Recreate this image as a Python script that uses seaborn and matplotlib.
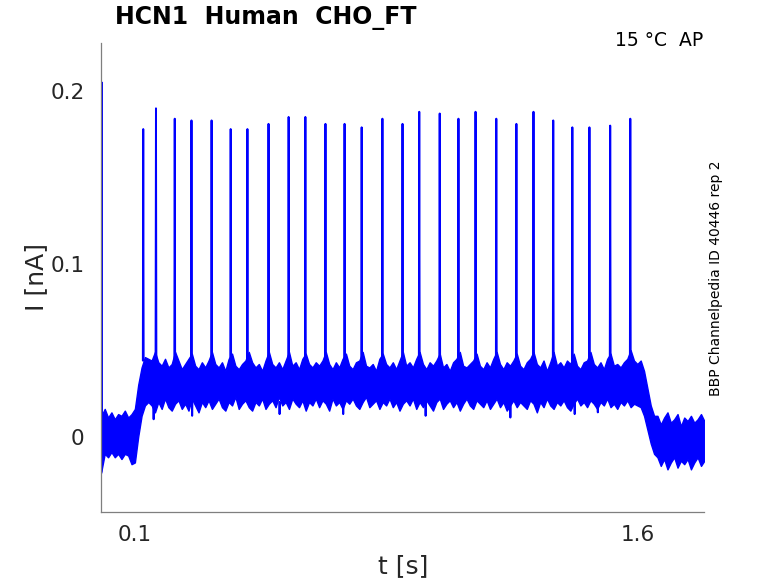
import numpy as np
import pandas as pd
import matplotlib
matplotlib.use("Agg")
import matplotlib.pyplot as plt
import seaborn as sns

# ---------------- data ----------------
# spike times [s] and peak currents [nA]
spike_t = [0.125, 0.163, 0.219, 0.269, 0.329, 0.386, 0.436, 0.499, 0.559,
           0.609, 0.669, 0.726, 0.777, 0.839, 0.899, 0.949, 1.010, 1.066,
           1.117, 1.179, 1.239, 1.290, 1.349, 1.406, 1.457, 1.519, 1.579]
spike_peak = [0.178, 0.190, 0.184, 0.183, 0.183, 0.178, 0.178, 0.181, 0.185,
              0.185, 0.181, 0.181, 0.179, 0.184, 0.181, 0.188, 0.187, 0.184,
              0.188, 0.184, 0.181, 0.188, 0.183, 0.179, 0.179, 0.180, 0.184]
spike_base = 0.044

# capacitive transient at the start of the trace
transient_t = [0.0005, 0.0010, 0.0020]
transient_i = [-0.021, 0.205, 0.004]

# occasional downward excursions of the noisy trace
dip_t = [0.156, 0.271, 0.532, 0.722, 0.968, 1.221, 1.413, 1.482]
dip_i = [0.010, 0.012, 0.013, 0.013, 0.012, 0.011, 0.013, 0.014]

# noise envelope of the trace on a 10 ms grid, 0.00 .. 1.80 s
env_upper = (
    [0.012, 0.016, 0.011, 0.014, 0.010, 0.013, 0.012, 0.015, 0.011, 0.013]
    + [0.016, 0.030, 0.040, 0.046, 0.045]
    + [0.044, 0.049, 0.043, 0.041, 0.045, 0.040, 0.042, 0.049, 0.044, 0.039,
       0.042, 0.045, 0.048, 0.041, 0.039, 0.043, 0.040, 0.044, 0.049, 0.042,
       0.040, 0.043, 0.038, 0.045, 0.048, 0.041, 0.039, 0.042, 0.044, 0.049,
       0.043, 0.040, 0.042, 0.038, 0.044, 0.049, 0.042, 0.040, 0.043, 0.039,
       0.044, 0.049, 0.041, 0.043, 0.039, 0.045, 0.048, 0.042, 0.040, 0.043,
       0.041, 0.044, 0.049, 0.042, 0.039, 0.043, 0.040, 0.045, 0.048, 0.041,
       0.039, 0.043, 0.044, 0.049, 0.041, 0.040, 0.042, 0.038, 0.045, 0.048,
       0.042, 0.040, 0.043, 0.039, 0.044, 0.049, 0.041, 0.043, 0.040, 0.045,
       0.049, 0.042, 0.039, 0.043, 0.041, 0.044, 0.048, 0.040, 0.042, 0.038,
       0.043, 0.045, 0.049, 0.041, 0.040, 0.042, 0.044, 0.048, 0.041, 0.039,
       0.043, 0.040, 0.045, 0.049, 0.042, 0.039, 0.043, 0.041, 0.044, 0.048,
       0.041, 0.039, 0.043, 0.045, 0.049, 0.042, 0.040, 0.044, 0.038, 0.043,
       0.049, 0.041, 0.043, 0.040, 0.044, 0.042, 0.048, 0.041, 0.039, 0.043,
       0.044, 0.049, 0.042, 0.040, 0.043, 0.039, 0.045, 0.048, 0.041, 0.042,
       0.040, 0.043, 0.045, 0.050, 0.044]
    + [0.042, 0.044, 0.038, 0.028, 0.018]
    + [0.012, 0.012, 0.007, 0.011, 0.014, 0.008, 0.010, 0.013, 0.006, 0.011,
       0.009, 0.012, 0.008, 0.010, 0.013, 0.009]
)
env_lower = (
    [-0.020, -0.010, -0.012, -0.009, -0.012, -0.010, -0.013, -0.010, -0.011, -0.016]
    + [-0.015, 0.000, 0.012, 0.018, 0.020]
    + [0.018, 0.014, 0.020, 0.016, 0.022, 0.017, 0.015, 0.019, 0.021, 0.016,
       0.019, 0.015, 0.022, 0.018, 0.014, 0.020, 0.017, 0.021, 0.016, 0.019,
       0.022, 0.017, 0.015, 0.020, 0.018, 0.023, 0.016, 0.019, 0.021, 0.017,
       0.015, 0.020, 0.018, 0.022, 0.016, 0.019, 0.021, 0.017, 0.023, 0.018,
       0.020, 0.016, 0.022, 0.019, 0.017, 0.021, 0.015, 0.020, 0.018, 0.022,
       0.017, 0.021, 0.019, 0.015, 0.022, 0.018, 0.020, 0.016, 0.021, 0.019,
       0.022, 0.018, 0.016, 0.020, 0.023, 0.017, 0.019, 0.021, 0.016, 0.020,
       0.018, 0.022, 0.017, 0.020, 0.015, 0.019, 0.021, 0.018, 0.022, 0.016,
       0.020, 0.017, 0.021, 0.018, 0.015, 0.020, 0.022, 0.016, 0.019, 0.021,
       0.017, 0.020, 0.015, 0.019, 0.022, 0.018, 0.016, 0.021, 0.019, 0.017,
       0.021, 0.016, 0.019, 0.022, 0.017, 0.020, 0.015, 0.018, 0.021, 0.017,
       0.020, 0.018, 0.016, 0.021, 0.019, 0.014, 0.020, 0.017, 0.022, 0.018,
       0.016, 0.020, 0.018, 0.021, 0.017, 0.015, 0.019, 0.022, 0.018, 0.020,
       0.017, 0.021, 0.019, 0.016, 0.020, 0.018, 0.022, 0.017, 0.019, 0.016,
       0.020, 0.018, 0.021, 0.017, 0.019]
    + [0.018, 0.017, 0.012, 0.004, -0.004]
    + [-0.010, -0.012, -0.017, -0.013, -0.019, -0.015, -0.012, -0.018, -0.014,
       -0.016, -0.013, -0.019, -0.015, -0.012, -0.017, -0.014]
)
env_t = np.round(np.arange(len(env_upper)) * 0.01, 2)

xticks = [0.1, 1.6]
xtick_labels = ["0.1", "1.6"]
yticks = [0.0, 0.1, 0.2]
ytick_labels = ["0", "0.1", "0.2"]

title = "HCN1  Human  CHO_FT"
corner_text = "15 °C  AP"
side_text = "BBP Channelpedia ID 40446 rep 2"

# ---------------- build plotting tables ----------------
rows = []
hw = 0.0012
for k, (t, p) in enumerate(zip(spike_t, spike_peak)):
    for tt, ii in ((t - hw, spike_base), (t, p), (t + hw, spike_base)):
        rows.append({"t": tt, "I": ii, "unit": f"s{k}"})
for k, (t, d) in enumerate(zip(dip_t, dip_i)):
    for tt, ii in ((t - 0.0008, 0.020), (t, d), (t + 0.0008, 0.020)):
        rows.append({"t": tt, "I": ii, "unit": f"d{k}"})
for tt, ii in zip(transient_t, transient_i):
    rows.append({"t": tt, "I": ii, "unit": "tr"})
marks = pd.DataFrame(rows)

# ---------------- figure ----------------
sns.set_theme(style="white")
plt.rcParams["font.family"] = ["DejaVu Sans"]

blue = "#0000FF"
grey = "#7f7f7f"
txt = "#262626"

fig = plt.figure(figsize=(7.78, 5.83), dpi=100)
ax = fig.add_axes([0.1303, 0.1226, 0.7750, 0.8036])

ax.fill_between(env_t, env_lower, env_upper, color=blue, linewidth=1.0,
                edgecolor=blue)
sns.lineplot(data=marks, x="t", y="I", units="unit", estimator=None,
             sort=False, color=blue, linewidth=1.4, ax=ax)

ax.set_xlim(0.0, 1.80)
ax.set_ylim(-0.0434, 0.2278)
ax.set_xticks(xticks)
ax.set_xticklabels(xtick_labels)
ax.set_yticks(yticks)
ax.set_yticklabels(ytick_labels)

for s in ("top", "right"):
    ax.spines[s].set_visible(False)
for s in ("left", "bottom"):
    ax.spines[s].set_color(grey)
    ax.spines[s].set_linewidth(0.9)
ax.spines["left"].set_zorder(5)

ax.tick_params(axis="both", direction="in", length=5, width=0.8,
               colors=grey, labelcolor=txt, labelsize=15.5)
ax.tick_params(axis="x", pad=10)
ax.tick_params(axis="y", pad=12)

ax.set_xlabel("t [s]", fontsize=18, color=txt, labelpad=6)
ax.set_ylabel("I [nA]", fontsize=18, color=txt, labelpad=2)

fig.text(115 / 778, 1 - 18 / 583, title, fontsize=17, fontweight="bold",
         ha="left", va="center", color="black")
fig.text(703 / 778, 1 - 40 / 583, corner_text, fontsize=13.5,
         ha="right", va="center", color="black")
fig.text(716 / 778, 1 - 278 / 583, side_text, fontsize=10, rotation=90,
         ha="center", va="center", color="black")

fig.savefig("out.png", dpi=100)
